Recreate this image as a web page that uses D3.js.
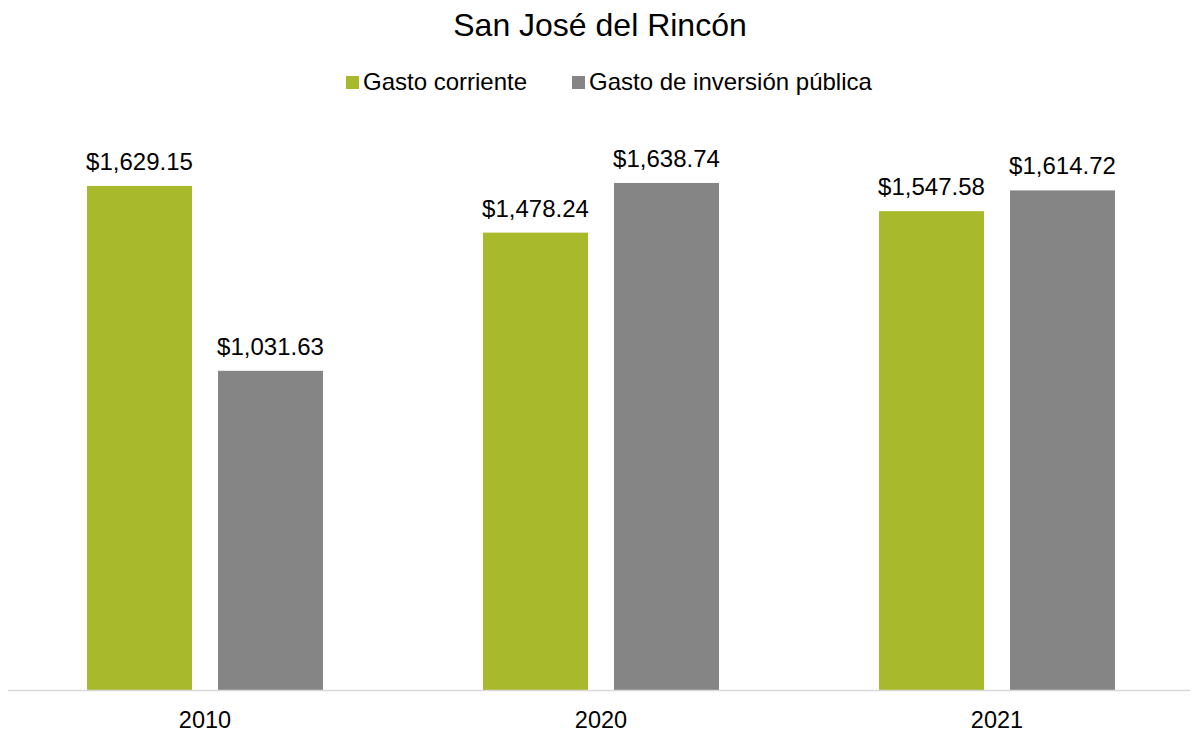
<!DOCTYPE html>
<html>
<head>
<meta charset="utf-8">
<script src="https://cdn.jsdelivr.net/npm/d3@7"></script>
<style>
  body { margin: 0; background: #fff; }
  text { font-family: "Liberation Sans", Arial, sans-serif; fill: #000; }
</style>
</head>
<body>
<div id="container"></div>
<script>
const years = ["2010", "2020", "2021"];
const seriesNames = ["Gasto corriente", "Gasto de inversión pública"];
const gastoCorriente = [1629.15, 1478.24, 1547.58];
const gastoInversion = [1031.63, 1638.74, 1614.72];
const colors = ["#a8b92b", "#858585"];

const w = 1196;
const h = 733;
const baseY = 690;

const data = years.map((y, i) => ({ year: y, values: [gastoCorriente[i], gastoInversion[i]] }));

const svg = d3.select("#container")
  .append("svg")
  .attr("width", w)
  .attr("height", h);

const xScale = d3.scaleBand()
  .domain(years)
  .range([7, 1195])
  .paddingInner(0)
  .paddingOuter(0);

const xInner = d3.scaleBand()
  .domain([0, 1])
  .range([0, xScale.bandwidth()])
  .paddingInner(0.1985)
  .paddingOuter(0.611);

const yScale = d3.scaleLinear()
  .domain([0, 1800])
  .range([baseY, baseY - 1800 * 0.3094]);

const fmt = d3.format(",.2f");

const groups = svg.selectAll("g.group")
  .data(data)
  .enter()
  .append("g")
  .attr("class", "group")
  .attr("transform", d => "translate(" + xScale(d.year) + ",0)");

groups.selectAll("rect")
  .data(d => d.values.map((v, i) => ({ v, i })))
  .enter()
  .append("rect")
  .attr("x", d => xInner(d.i))
  .attr("y", d => yScale(d.v))
  .attr("width", xInner.bandwidth())
  .attr("height", d => yScale(0) - yScale(d.v))
  .attr("fill", d => colors[d.i]);

groups.selectAll("text.label")
  .data(d => d.values.map((v, i) => ({ v, i })))
  .enter()
  .append("text")
  .attr("class", "label")
  .attr("x", d => xInner(d.i) + xInner.bandwidth() / 2)
  .attr("y", d => yScale(d.v) - 16)
  .attr("text-anchor", "middle")
  .attr("font-size", 24)
  .text(d => "$" + fmt(d.v));

// x axis
svg.append("line")
  .attr("x1", 8)
  .attr("x2", 1190)
  .attr("y1", baseY + 0.5)
  .attr("y2", baseY + 0.5)
  .attr("stroke", "#d9d9d9")
  .attr("stroke-width", 1.5);

svg.selectAll("text.tick")
  .data(years)
  .enter()
  .append("text")
  .attr("class", "tick")
  .attr("x", d => xScale(d) + xScale.bandwidth() / 2)
  .attr("y", 728)
  .attr("text-anchor", "middle")
  .attr("font-size", 23.5)
  .text(d => d);

// title
svg.append("text")
  .attr("x", 600)
  .attr("y", 35.5)
  .attr("text-anchor", "middle")
  .attr("font-size", 32)
  .text("San José del Rincón");

// legend
const legendX = [346, 572];
const legend = svg.selectAll("g.legend")
  .data(seriesNames)
  .enter()
  .append("g")
  .attr("class", "legend")
  .attr("transform", (d, i) => "translate(" + legendX[i] + ",76)");

legend.append("rect")
  .attr("width", 13)
  .attr("height", 13)
  .attr("fill", (d, i) => colors[i]);

legend.append("text")
  .attr("x", 17)
  .attr("y", 14)
  .attr("font-size", 24)
  .text(d => d);
</script>
</body>
</html>
